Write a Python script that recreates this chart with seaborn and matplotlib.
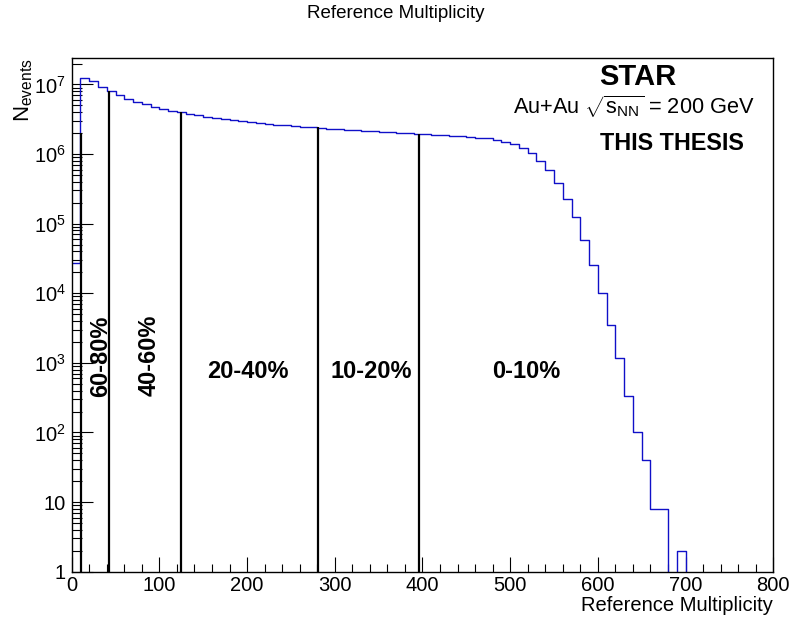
import numpy as np
import pandas as pd
import matplotlib
matplotlib.use("Agg")
import matplotlib.pyplot as plt
import seaborn as sns
from matplotlib.ticker import FuncFormatter, LogLocator, NullFormatter, MultipleLocator

# ---------------- data ----------------
bin_low = list(range(0, 800, 10))
counts = [
    2.76e4, 1.25e7, 1.12e7, 9.3e6, 8.07e6, 7.07e6, 6.19e6, 5.66e6, 5.19e6, 4.80e6,
    4.49e6, 4.20e6, 4.02e6, 3.82e6, 3.65e6, 3.45e6, 3.30e6, 3.19e6, 3.09e6, 2.99e6,
    2.89e6, 2.80e6, 2.74e6, 2.65e6, 2.59e6, 2.53e6, 2.48e6, 2.43e6, 2.37e6, 2.32e6,
    2.27e6, 2.23e6, 2.20e6, 2.16e6, 2.13e6, 2.09e6, 2.06e6, 2.02e6, 1.99e6, 1.96e6,
    1.92e6, 1.89e6, 1.86e6, 1.83e6, 1.79e6, 1.76e6, 1.72e6, 1.69e6, 1.60e6, 1.51e6,
    1.40e6, 1.24e6, 1.05e6, 8.0e5, 5.9e5, 3.8e5, 2.26e5, 1.24e5, 5.8e4, 2.55e4,
    1.0e4, 3.5e3, 1.16e3, 338, 101, 40, 8, 8, 0, 2,
    0, 0, 0, 0, 0, 0, 0, 0, 0, 0,
]
cut_x = [10.3, 42.9, 124.6, 281.2, 396.0]
cut_top = [2.0e6, 8.07e6, 3.98e6, 2.43e6, 1.95e6]
class_labels = ["60-80%", "40-60%", "20-40%", "10-20%", "0-10%"]
class_x = [33.4, 88.1, 201.4, 341.3, 518.8]
class_y = [1.24e3, 1.30e3, 748, 748, 748]
class_rot = [90, 90, 0, 0, 0]

# ---------------- style ----------------
sns.set_style("white")
plt.rcParams["font.family"] = ["Liberation Sans", "DejaVu Sans"]
plt.rcParams["mathtext.fontset"] = "custom"
plt.rcParams["mathtext.rm"] = "Liberation Sans"
plt.rcParams["mathtext.it"] = "Liberation Sans:italic"
plt.rcParams["mathtext.bf"] = "Liberation Sans:bold"
plt.rcParams["mathtext.default"] = "regular"
for k in ["text.color", "axes.labelcolor", "xtick.color", "ytick.color",
          "axes.edgecolor"]:
    plt.rcParams[k] = "black"

fig = plt.figure(figsize=(7.91, 6.22), dpi=100)
ax = fig.add_axes([0.0906, 0.0809, 0.887, 0.8254])

df = pd.DataFrame({"mult": np.array(bin_low, dtype=float) + 5.0,
                   "n": np.array(counts, dtype=float)})
sns.histplot(data=df, x="mult", weights="n", binwidth=10, binrange=(0, 800),
             element="step", fill=False, color="#1010c8", linewidth=1.0, ax=ax)

ax.set_yscale("log")
ax.vlines(cut_x, 1, cut_top, color="black", linewidth=1.6, zorder=3)

for lab, xx, yy, rot in zip(class_labels, class_x, class_y, class_rot):
    ax.text(xx, yy, lab, rotation=rot, ha="center", va="center",
            fontsize=17, fontweight="bold", color="black")

ax.set_xlim(0, 800)
ax.set_ylim(1, 2.38e7)

# ticks
ax.xaxis.set_major_locator(MultipleLocator(100))
ax.xaxis.set_minor_locator(MultipleLocator(20))
ax.yaxis.set_major_locator(LogLocator(base=10, numticks=20))
ax.yaxis.set_minor_locator(LogLocator(base=10, subs=np.arange(2, 10), numticks=200))
ax.yaxis.set_minor_formatter(NullFormatter())


def yfmt(v, pos):
    e = int(round(np.log10(v)))
    if e == 0:
        return "1"
    if e == 1:
        return "10"
    return r"$10^{%d}$" % e


ax.yaxis.set_major_formatter(FuncFormatter(yfmt))
ax.tick_params(axis="x", which="major", direction="in", length=10.8, width=0.8,
               labelsize=14.5, pad=3, top=False, bottom=True, color="black")
ax.tick_params(axis="x", which="minor", direction="in", length=5.5, width=0.8,
               top=False, bottom=True)
ax.tick_params(axis="y", which="major", direction="in", length=15, width=0.8,
               labelsize=14.5, pad=4, left=True, right=False)
ax.tick_params(axis="y", which="minor", direction="in", length=7.5, width=0.8,
               left=True, right=False)
for s in ax.spines.values():
    s.set_color("black")
    s.set_linewidth(1.0)

ax.set_xlabel("Reference Multiplicity", fontsize=14.5, ha="right", va="top")
ax.xaxis.set_label_coords(1.0, -0.047)
ax.set_ylabel(r"$N_{events}$", fontsize=16, loc="top")
ax.yaxis.label.set_rotation(90)
ax.yaxis.set_label_coords(-0.052, 1.0)

fig.text(0.5, 1 - 14 / 622, "Reference Multiplicity", ha="center", va="center",
         fontsize=13.5)

ax.text(0.807, 0.948, "STAR", transform=ax.transAxes, ha="center",
        va="baseline", fontsize=21, fontweight="bold")
ax.text(0.8007, 0.8915, r"Au+Au $\sqrt{s_{NN}}$ = 200 GeV", transform=ax.transAxes,
        ha="center", va="baseline", fontsize=15.7)
ax.text(0.8556, 0.8214, "THIS THESIS", transform=ax.transAxes, ha="center",
        va="baseline", fontsize=16.8, fontweight="bold")

fig.savefig("out.png", dpi=100)
